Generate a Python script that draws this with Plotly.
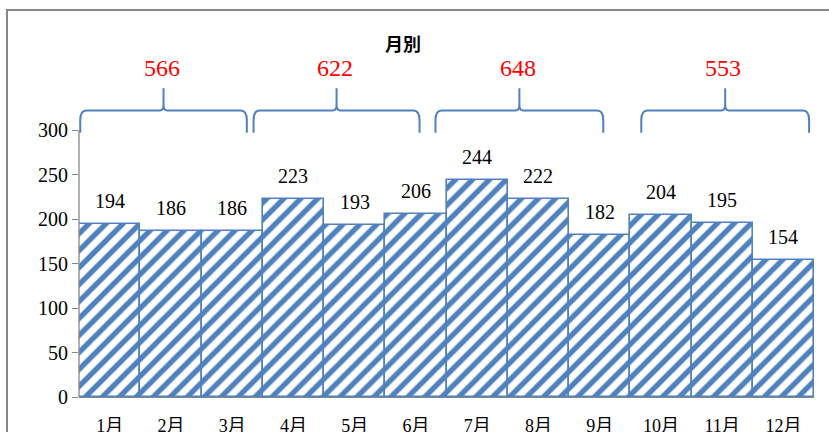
import plotly.graph_objects as go

# Monthly values
months = ["1月", "2月", "3月", "4月", "5月", "6月",
          "7月", "8月", "9月", "10月", "11月", "12月"]
values = [194, 186, 186, 223, 193, 206, 244, 222, 182, 204, 195, 154]

# Quarter totals shown above the braces (each group of three months)
group_months = [[0, 1, 2], [3, 4, 5], [6, 7, 8], [9, 10, 11]]
group_totals = [sum(values[i] for i in g) for g in group_months]

title_text = "月別"
y_ticks = [0, 50, 100, 150, 200, 250, 300]

BLUE = "#4F81BD"
GRAY = "#868686"
SERIF = "Liberation Serif, Noto Sans CJK JP, serif"

x_idx = list(range(len(months)))

fig = go.Figure()
fig.add_trace(go.Bar(
    x=x_idx, y=values, width=1.0,
    marker=dict(
        color="white",
        line=dict(color=BLUE, width=1.6),
        pattern=dict(shape="/", fgcolor=BLUE, bgcolor="white", fgopacity=1,
                     size=12, solidity=0.45),
    ),
    hoverinfo="skip",
))

annotations = []
# value labels above each bar
for i, v in zip(x_idx, values):
    annotations.append(dict(
        x=i, y=v, xref="x", yref="y", text=str(v), showarrow=False,
        yshift=23, font=dict(family=SERIF, size=20, color="black"),
    ))

# brace geometry (data units)
brace_spans = [(-0.48, 2.24), (2.35, 5.06), (5.32, 8.06), (8.68, 11.42)]
yb, yh, ytip = 297, 322, 347
rx, ry = 0.10, 11
rt, dt = 0.06, 7

shapes = []
for (x0, x1), total in zip(brace_spans, group_totals):
    xm = (x0 + x1) / 2
    path = (
        f"M {x0},{yb} L {x0},{yh - ry} Q {x0},{yh} {x0 + rx},{yh} "
        f"L {xm - rt},{yh} Q {xm},{yh} {xm},{yh + dt} L {xm},{ytip} "
        f"L {xm},{yh + dt} Q {xm},{yh} {xm + rt},{yh} "
        f"L {x1 - rx},{yh} Q {x1},{yh} {x1},{yh - ry} L {x1},{yb}"
    )
    shapes.append(dict(type="path", xref="x", yref="y", path=path,
                       line=dict(color=BLUE, width=2)))
    annotations.append(dict(
        x=xm - 0.03, y=370, xref="x", yref="y", text=str(total),
        showarrow=False, font=dict(family=SERIF, size=24, color="red"),
    ))

# value axis line (only spans the tick range)
shapes.append(dict(type="line", xref="paper", yref="y", x0=0, x1=0,
                   y0=0, y1=300, line=dict(color=GRAY, width=1.3)))

# chart frame
shapes.append(dict(type="rect", xref="paper", yref="paper",
                   x0=-0.098, x1=1.2, y0=-0.3, y1=1.0545,
                   line=dict(color=GRAY, width=2), layer="below"))

annotations.append(dict(
    x=0.441, y=0.9646, xref="paper", yref="paper", text=f"<b>{title_text}</b>",
    xanchor="center", yanchor="middle", showarrow=False,
    font=dict(family="Noto Sans CJK JP", size=18, color="black"),
))

fig.update_layout(
    width=829, height=432,
    margin=dict(l=79, r=15, t=30, b=35, autoexpand=False),
    paper_bgcolor="white", plot_bgcolor="white",
    showlegend=False, bargap=0,
    shapes=shapes, annotations=annotations,
)
fig.update_xaxes(
    range=[-0.5, 11.5], tickvals=x_idx, ticktext=months,
    showline=True, linecolor=GRAY, linewidth=1.3,
    showgrid=False, zeroline=False, ticks="", automargin=False,
    ticklabelstandoff=12,
    tickfont=dict(family=SERIF, size=18, color="black"),
)
fig.update_yaxes(
    range=[0, 412.4], tickvals=y_ticks, automargin=False,
    showline=False, showgrid=False, zeroline=False,
    ticks="outside", ticklen=6, tickcolor=GRAY, tickwidth=1.3,
    tickfont=dict(family=SERIF, size=20, color="black"),
)

fig.write_html("out.html")
